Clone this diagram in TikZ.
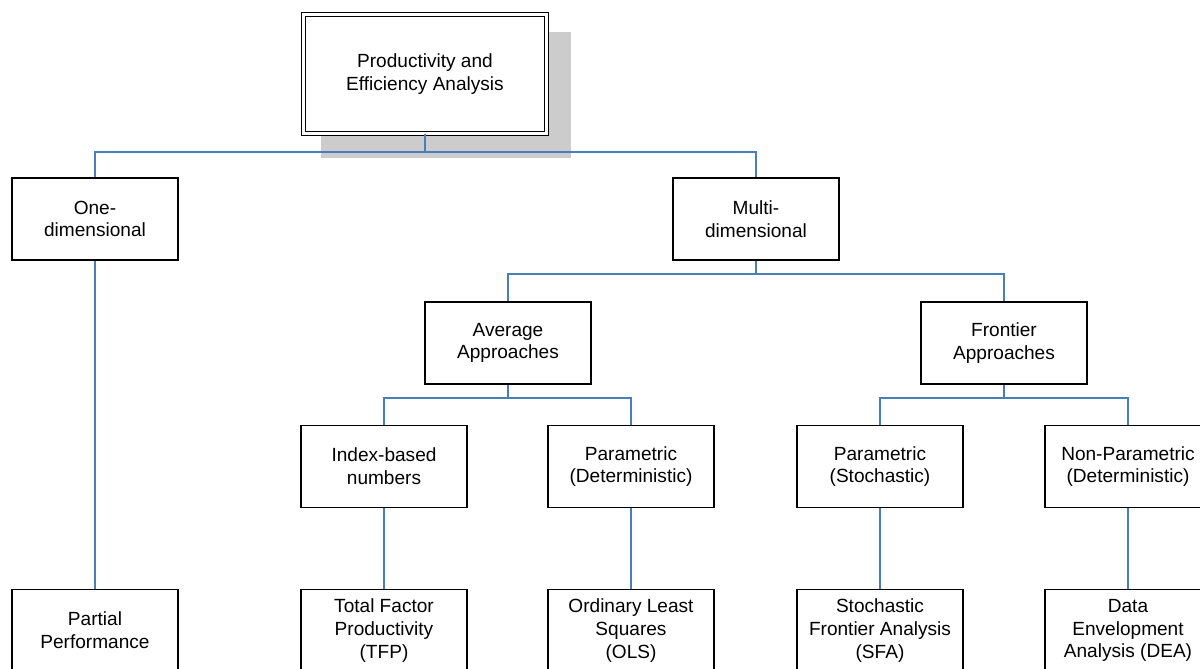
\documentclass[tikz,border=0pt]{standalone}
\usepackage{fontspec}
\setmainfont{Liberation Sans}

\definecolor{linkblue}{RGB}{74,126,187}
\definecolor{shadowgray}{RGB}{204,204,204}

\tikzset{every picture/.style={line width=0.75pt}}
\tikzset{
  chartbox/.style={draw=black, line width=1pt, fill=white, align=center, inner sep=0.75pt,
    minimum width=124.5pt, minimum height=61.5pt, font=\fontsize{14.3}{17}\selectfont},
  titlebox/.style={chartbox, double, double distance=2.2pt, line width=0.9pt,
    minimum width=182pt, minimum height=89pt},
  link/.style={draw=linkblue, line width=0.9pt}
}

\begin{document}
\begin{tikzpicture}[x=0.75pt,y=0.75pt,yscale=-1,xscale=1]
\useasboundingbox (0,0) rectangle (1200,668);

%Shape: Rectangle (shadow)
\fill [shadowgray] (321,32) rectangle (571,158);

% Text Node
\node (pea) [titlebox] at (425,74) {Productivity and\\Efficiency Analysis};

% Text Node
\node (one) [chartbox] at (95,219) {One-\\dimensional};
\node (multi) [chartbox] at (756,219) {Multi-\\dimensional};

% Text Node
\node (avg) [chartbox] at (508,343) {Average\\Approaches};
\node (front) [chartbox] at (1004,343) {Frontier\\Approaches};

% Text Node
\node (idx) [chartbox] at (384,466.5) {Index-based\\numbers};
\node (pdet) [chartbox] at (631,466.5) {Parametric\\(Deterministic)};
\node (psto) [chartbox] at (880,466.5) {Parametric\\(Stochastic)};
\node (npar) [chartbox] at (1128,466.5) {Non-Parametric\\(Deterministic)};

% Text Node
\node (partial) [chartbox] at (95,630.5) {Partial\\Performance};
\node (tfp) [chartbox] at (384,630.5) {Total Factor\\Productivity\\(TFP)};
\node (ols) [chartbox] at (631,630.5) {Ordinary Least\\Squares\\(OLS)};
\node (sfa) [chartbox] at (880,630.5) {Stochastic\\Frontier Analysis\\(SFA)};
\node (dea) [chartbox] at (1128,630.5) {Data\\Envelopment\\Analysis (DEA)};

%Straight Lines
\coordinate (peabar) at (425,152);
\coordinate (multibar) at (756,274);
\coordinate (avgbar) at (508,398);
\coordinate (frontbar) at (1004,398);

\draw [link] (pea.south) -- (peabar) -| (one.north);
\draw [link] (peabar) -| (multi.north);
\draw [link] (multi.south) -- (multibar) -| (avg.north);
\draw [link] (multibar) -| (front.north);
\draw [link] (avg.south) -- (avgbar) -| (idx.north);
\draw [link] (avgbar) -| (pdet.north);
\draw [link] (front.south) -- (frontbar) -| (psto.north);
\draw [link] (frontbar) -| (npar.north);
\draw [link] (one.south) -- (partial.north);
\draw [link] (idx.south) -- (tfp.north);
\draw [link] (pdet.south) -- (ols.north);
\draw [link] (psto.south) -- (sfa.north);
\draw [link] (npar.south) -- (dea.north);

\end{tikzpicture}
\end{document}
